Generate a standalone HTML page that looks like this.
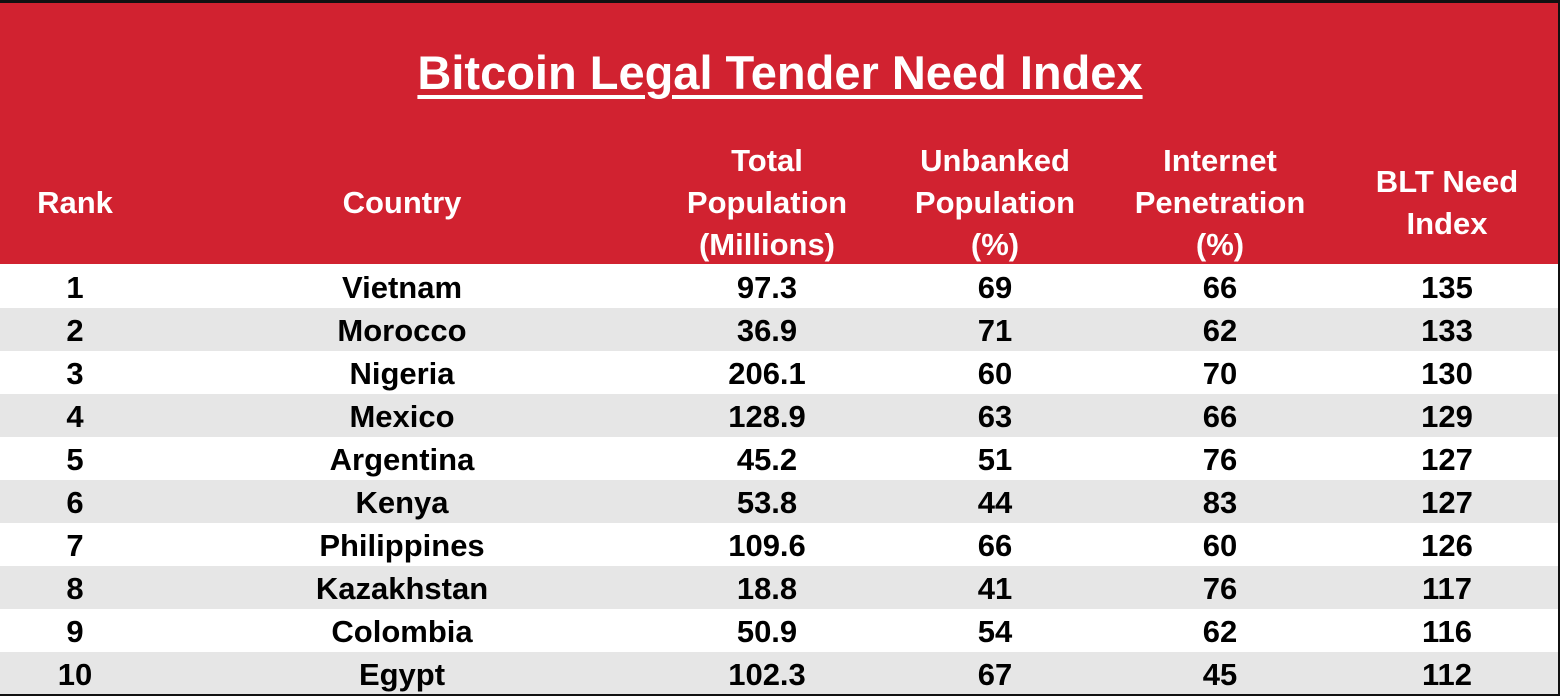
<!DOCTYPE html>
<html><head><meta charset="utf-8"><style>
html,body{margin:0;padding:0;background:#fff}
#wrap{position:relative;width:1560px;height:696px;overflow:hidden;font-family:"Liberation Sans","Arimo",Helvetica,sans-serif;font-weight:700}
#hdr{position:absolute;left:0;top:3px;width:1558px;height:261px;background:#d12230}
#topline{position:absolute;left:0;top:0;width:1560px;height:3px;background:#111}
#rightline{position:absolute;right:0;top:0;width:2px;height:696px;background:#111}
#botline{position:absolute;left:0;bottom:0;width:1560px;height:2px;background:#111}
#title{position:absolute;left:0;width:1560px;top:47px;text-align:center;color:#fff;font-size:47px;text-decoration:underline;text-decoration-thickness:4px;text-underline-offset:6px;line-height:52px}
.h{position:absolute;color:#fff;font-size:31px;line-height:42px;text-align:center;transform:translateX(-50%);white-space:nowrap}
.row{position:absolute;left:0;width:1558px;height:43px}
.c{position:absolute;top:1px;font-size:31px;line-height:43px;transform:translateX(-50%);white-space:nowrap;color:#000}
</style></head><body>
<div id="wrap">
<div id="hdr"></div>
<div id="topline"></div>
<div id="title">Bitcoin Legal Tender Need Index</div>
<div class="h" style="left:75px;top:182px">Rank</div>
<div class="h" style="left:402px;top:182px">Country</div>
<div class="h" style="left:767px;top:140px">Total<br>Population<br>(Millions)</div>
<div class="h" style="left:995px;top:140px">Unbanked<br>Population<br>(%)</div>
<div class="h" style="left:1220px;top:140px">Internet<br>Penetration<br>(%)</div>
<div class="h" style="left:1447px;top:161px">BLT Need<br>Index</div>
<div id="rows"></div>
<div id="rightline"></div>
<div id="botline"></div>
</div>
<script>
const ranks=[1,2,3,4,5,6,7,8,9,10];
const countries=["Vietnam","Morocco","Nigeria","Mexico","Argentina","Kenya","Philippines","Kazakhstan","Colombia","Egypt"];
const totalPop=["97.3","36.9","206.1","128.9","45.2","53.8","109.6","18.8","50.9","102.3"];
const unbanked=[69,71,60,63,51,44,66,41,54,67];
const internet=[66,62,70,66,76,83,60,76,62,45];
const bltIndex=[135,133,130,129,127,127,126,117,116,112];
const colX=[75,402,767,995,1220,1447];
const colNames=['rank-cell','country-cell','total-population-cell','unbanked-cell','internet-cell','blt-index-cell'];
const host=document.getElementById('rows');
for(let i=0;i<countries.length;i++){
  const r=document.createElement('div');
  r.className='row';
  r.style.top=(265+i*43)+'px';
  r.style.background=i%2?'#e6e6e6':'#fff';
  
  
  const vals=[ranks[i],countries[i],totalPop[i],unbanked[i],internet[i],bltIndex[i]];
  for(let j=0;j<6;j++){
    const c=document.createElement('div');
    c.className='c';
    c.style.left=colX[j]+'px';
    c.textContent=vals[j];
    
    
    r.appendChild(c);
  }
  host.appendChild(r);
}
</script>
</body></html>
